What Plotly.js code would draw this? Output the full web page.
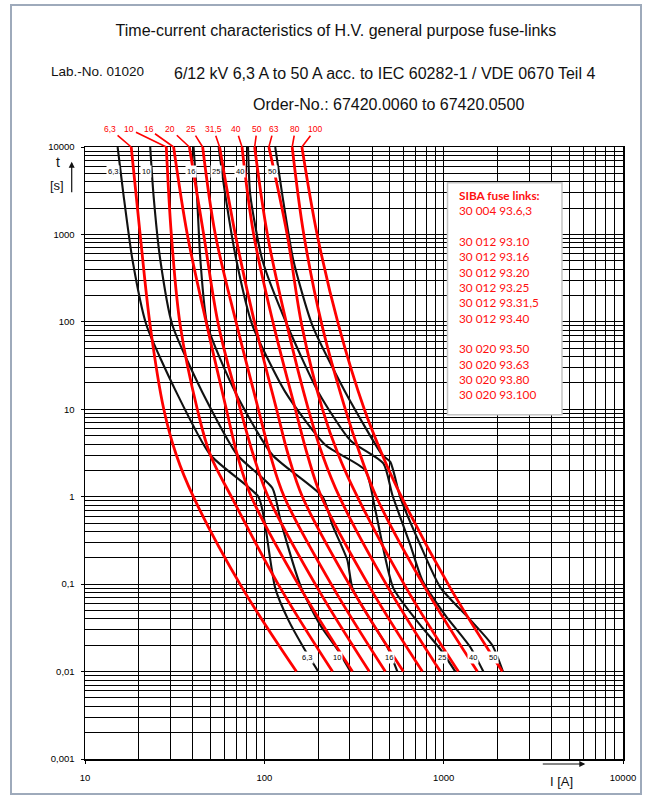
<!DOCTYPE html>
<html><head><meta charset="utf-8">
<script src="https://cdn.plot.ly/plotly-3.0.1.min.js"></script>
<style>
html,body{margin:0;padding:0;background:#fff;}
body{position:relative;width:649px;height:802px;overflow:hidden;}
#chart{width:649px;height:802px;}
#frame{position:absolute;left:10px;top:4px;width:628px;height:787px;border:2px solid #9eaabb;pointer-events:none;}
</style>
</head><body>
<div id="chart"></div><div id="frame"></div>
<script>
// ---- red curves (SIBA fuse links): current I [A] at common times t [s]
const redTimes = [10000, 1000, 90, 10, 3, 1, 0.09, 0.01];
const red_6_3  = [18.1, 20.3, 23.1, 27.5, 32.3, 40.2, 75.4, 151];
const red_10   = [28.4, 30.3, 34.0, 42.3, 50.0, 65.5, 123, 240];
const red_16   = [31.2, 37.2, 47.9, 61.4, 70.7, 84.6, 159, 310];
const red_20   = [38.2, 45.9, 55.6, 73.5, 86.8, 105, 198, 385];
const red_25   = [45.3, 53.3, 70.4, 92.6, 108, 129, 243, 473];
const red_31_5 = [56.3, 68.9, 89.1, 117, 136, 163, 306, 596];
const red_40   = [75.1, 87.2, 113, 149, 174, 208, 390, 761];
const red_50   = [88.3, 104, 134, 176, 211, 262, 492, 959];
const red_63   = [106, 134, 162, 211, 259, 330, 619, 1208];
const red_80   = [143, 166, 210, 283, 343, 421, 790, 1542];
const red_100  = [162, 197, 260, 361, 455, 581, 1090, 2125];
const redRatings = ['6,3','10','16','20','25','31,5','40','50','63','80','100'];

// ---- black curves (6/12 kV fuse-links)
const black_6_3_I = [15.2, 16.4, 18.4, 22.0, 32.3, 50.0, 92.6, 100, 115, 136, 165, 200];
const black_6_3_t = [10000, 2820, 510, 92, 15.7, 3.0, 1.0, 0.54, 0.09, 0.039, 0.019, 0.01];
const black_10_I  = [23.1, 24.1, 26.3, 30.7, 45.1, 70.7, 111, 123, 161, 205, 255, 302];
const black_10_t  = [10000, 2820, 510, 92, 15.7, 3.0, 1.25, 0.54, 0.09, 0.034, 0.018, 0.01];
const black_16_I  = [40.3, 42.1, 44.0, 48.1, 68.9, 111, 211, 240, 290, 310, 390, 486, 552];
const black_16_t  = [10000, 2820, 510, 92, 15.7, 3.0, 1.0, 0.47, 0.19, 0.09, 0.039, 0.019, 0.01];
const black_25_I  = [55.6, 60.6, 69.8, 85.7, 131, 219, 366, 416, 524, 741, 958, 1162];
const black_25_t  = [10000, 2820, 510, 92, 15.7, 3.9, 2.0, 0.70, 0.09, 0.034, 0.018, 0.01];
const black_40_I  = [81.1, 83.5, 97.5, 134, 200, 302, 461, 518, 652, 761, 1022, 1409, 1665];
const black_40_t  = [10000, 2820, 510, 92, 15.7, 4.4, 2.4, 1.04, 0.28, 0.11, 0.044, 0.019, 0.01];
const black_50_I  = [115, 126, 145, 185, 283, 455, 504, 574, 741, 958, 1408, 1867, 2141];
const black_50_t  = [10000, 2820, 510, 92, 15.7, 3.0, 2.5, 0.97, 0.28, 0.092, 0.039, 0.020, 0.01];
const blackRatings = ['6,3','10','16','25','40','50'];

// ---- label anchor positions (current values) for curve labels
const redLabelI = [13.8, 17.7, 22.6, 29.9, 39.2, 52.1, 69.8, 91.1, 112.7, 148.9, 192.5];
const blackTopLabelI = [14.3, 22.0, 39.2, 54.0, 73.5, 110.4];
const blackBottomLabelI = [173, 254, 498, 980, 1459, 1876];

// ---- ticks and text
const xTickVals = [10, 100, 1000, 10000];
const xTickText = ['10', '100', '1000', '10000'];
const yTickVals = [0.001, 0.01, 0.1, 1, 10, 100, 1000, 10000];
const yTickText = ['0,001', '0,01', '0,1', '1', '10', '100', '1000', '10000'];
const sibaLinks = ['30 004 93.6,3', '\u00a0', '30 012 93.10', '30 012 93.16', '30 012 93.20',
  '30 012 93.25', '30 012 93.31,5', '30 012 93.40', '\u00a0', '30 020 93.50',
  '30 020 93.63', '30 020 93.80', '30 020 93.100'];

const redCurves = [red_6_3, red_10, red_16, red_20, red_25, red_31_5, red_40, red_50, red_63, red_80, red_100];
const blackI = [black_6_3_I, black_10_I, black_16_I, black_25_I, black_40_I, black_50_I];
const blackT = [black_6_3_t, black_10_t, black_16_t, black_25_t, black_40_t, black_50_t];

const FONT = 'Liberation Sans, Arial, sans-serif';
const traces = [];
blackI.forEach((xs, i) => traces.push({
  x: xs, y: blackT[i], type: 'scatter', mode: 'lines', name: 'black ' + blackRatings[i],
  line: {color: '#111', width: 2.1, shape: 'spline', smoothing: 0.6}, hoverinfo: 'skip'
}));
redCurves.forEach((xs, i) => traces.push({
  x: xs, y: redTimes, type: 'scatter', mode: 'lines', name: 'red ' + redRatings[i],
  line: {color: '#ff0000', width: 2.8, shape: 'spline', smoothing: 1.0}, hoverinfo: 'skip'
}));

const L = Math.log10;
const ann = [];
// red rating labels with leader lines to curve tops
redCurves.forEach((xs, i) => ann.push({
  x: L(xs[0]), y: L(redTimes[0]), xref: 'x', yref: 'y',
  ax: L(redLabelI[i]), ay: L(16000), axref: 'x', ayref: 'y',
  text: redRatings[i], showarrow: true, arrowhead: 0, arrowwidth: 1.6, arrowcolor: '#ff0000',
  standoff: 0, startstandoff: 0,
  font: {family: FONT, size: 8.5, color: '#ff0000'}
}));
// black labels at top and bottom
blackRatings.forEach((r, i) => {
  ann.push({x: L(blackTopLabelI[i]), y: L(5200), xref: 'x', yref: 'y', text: r, showarrow: false,
    bgcolor: '#fff', borderpad: 1, font: {family: FONT, size: 7.5, color: '#000'}});
  ann.push({x: L(blackBottomLabelI[i]), y: L(0.0145), xref: 'x', yref: 'y', text: r, showarrow: false,
    bgcolor: '#fff', borderpad: 1, font: {family: FONT, size: 7.5, color: '#000'}});
});
function paperText(x, y, text, size, xanchor) {
  return {xref: 'paper', yref: 'paper', x: x, y: y, xanchor: xanchor || 'center', yanchor: 'middle',
    text: text, showarrow: false, font: {family: FONT, size: size, color: '#111'}};
}
// header texts
ann.push(paperText(-0.0673, 1.1241, 'Lab.-No. 01020', 13.5, 'left'));
ann.push(paperText(0.1614, 1.1204, '6/12 kV 6,3 A to 50 A acc. to IEC 60282-1 / VDE 0670 Teil 4', 16, 'left'));
ann.push(paperText(0.3091, 1.0697, 'Order-No.: 67420.0060 to 67420.0500', 16, 'left'));
// axis titles and arrows
ann.push(paperText(-0.0500, 0.9750, 't', 14));
ann.push(paperText(-0.0526, 0.9370, '[s]', 13));
ann.push({xref: 'paper', yref: 'paper', x: -0.0247, y: 0.976, ax: 0, ay: 32, text: '',
  showarrow: true, arrowhead: 2, arrowsize: 1, arrowwidth: 1.2, arrowcolor: '#111'});
ann.push(paperText(0.8866, -0.0370, 'I [A]', 13));
ann.push({xref: 'paper', yref: 'paper', x: 0.9299, y: -0.0082, ax: -44, ay: 0, text: '',
  showarrow: true, arrowhead: 2, arrowsize: 1, arrowwidth: 1.2, arrowcolor: '#111'});
// SIBA legend text
ann.push({xref: 'paper', yref: 'paper', x: 0.6913, y: 0.758, xanchor: 'left', yanchor: 'middle',
  align: 'left', showarrow: false,
  text: '<b>SIBA fuse links:</b><br>' + sibaLinks.join('<br>'),
  font: {family: 'Lato, Noto Sans, sans-serif', size: 11.8, color: '#ff1010'}});

const axisCommon = {
  type: 'log', tickmode: 'array', ticks: 'outside', ticklen: 3, tickcolor: '#000',
  showgrid: true, gridcolor: '#000', gridwidth: 1,
  minor: {dtick: 'D1', showgrid: true, gridcolor: '#000', gridwidth: 1, ticks: ''},
  showline: true, linecolor: '#000', linewidth: 1.5, mirror: true, zeroline: false,
  tickfont: {family: FONT, size: 9.5, color: '#000'}
};

const layout = {
  width: 649, height: 802,
  margin: {l: 85, r: 26, t: 147, b: 43},
  paper_bgcolor: '#fff', plot_bgcolor: '#fff', showlegend: false,
  title: {text: 'Time-current characteristics of H.V. general purpose fuse-links',
    x: 0.5177, y: 0.9617, xanchor: 'center', yanchor: 'middle', xref: 'container', yref: 'container',
    font: {family: FONT, size: 16, color: '#111'}},
  xaxis: Object.assign({}, axisCommon, {range: [1, 4], tickvals: xTickVals, ticktext: xTickText, ticklabelstandoff: 6}),
  yaxis: Object.assign({}, axisCommon, {range: [-3, 4], tickvals: yTickVals, ticktext: yTickText, ticklabelstandoff: 4}),
  shapes: [{type: 'rect', xref: 'paper', yref: 'paper', x0: 0.6738, x1: 0.8866, y0: 0.5623, y1: 0.9417,
    fillcolor: '#fff', line: {color: '#c4c4c4', width: 1.5}, layer: 'above'}],
  annotations: ann
};

Plotly.newPlot('chart', traces, layout, {displayModeBar: false, staticPlot: true});
</script>
</body></html>
